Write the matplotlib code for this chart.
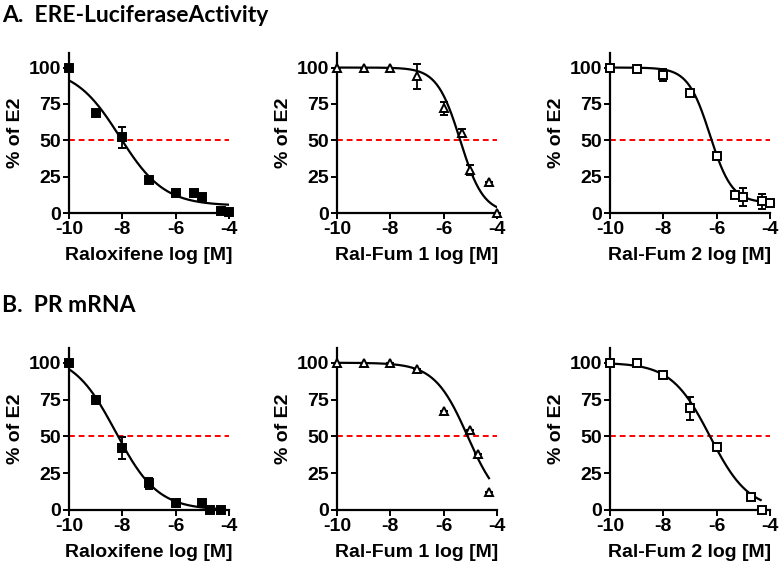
import numpy as np
import matplotlib
matplotlib.use("Agg")
import matplotlib.pyplot as plt

ral_ere_x = [-10, -9, -8, -7, -6, -5.3, -5, -4.3, -4]
ral_ere_y = [100, 69, 52, 23, 14, 14, 11, 1.5, 0.5]
ral_ere_err = [0, 0, 7, 2, 0, 0, 0, 0, 0]

fum1_ere_x = [-10, -9, -8, -7, -6, -5.3, -5, -4.3, -4]
fum1_ere_y = [100, 100, 99.5, 94, 72, 55, 29.5, 21, 0]
fum1_ere_err = [0, 0, 0, 8.5, 4.5, 3, 3.5, 0, 0]

fum2_ere_x = [-10, -9, -8, -7, -6, -5.3, -5, -4.3, -4]
fum2_ere_y = [100, 99, 95, 82.5, 39.5, 12.5, 11, 8, 7]
fum2_ere_err = [1, 0, 4, 0, 0, 0, 6, 5, 0]

ral_pr_x = [-10, -9, -8, -7, -6, -5, -4.7, -4.3]
ral_pr_y = [100, 75, 42, 18, 5, 4.5, 0, 0]
ral_pr_err = [0, 0, 7.5, 4, 0, 0, 0, 0]

fum1_pr_x = [-10, -9, -8, -7, -6, -5, -4.7, -4.3]
fum1_pr_y = [100, 100, 99.5, 96, 67.5, 54, 38, 12]
fum1_pr_err = [0, 0, 0, 0, 0, 0, 0, 0]

fum2_pr_x = [-10, -9, -8, -7, -6, -4.7, -4.3]
fum2_pr_y = [100, 99.5, 92, 69, 43, 8.5, 0]
fum2_pr_err = [0, 0, 0, 8, 2, 2, 0]

# fitted dose-response curves: top, bottom, logIC50, hill slope, last x
ral_ere_fit = [100, 5, -8.1, 0.52, -4.0]
fum1_ere_fit = [100, 0, -5.38, 1.0, -4.0]
fum2_ere_fit = [100, 7, -6.25, 1.05, -4.05]
ral_pr_fit = [106, 0, -8.25, 0.55, -4.4]
fum1_pr_fit = [100, 0, -5.1, 0.7, -4.3]
fum2_pr_fit = [100, 0, -6.25, 0.6, -4.35]

xlabels = ["Raloxifene log [M]", "Ral-Fum 1 log [M]", "Ral-Fum 2 log [M]"]
section_titles = ["A.  ERE-LuciferaseActivity", "B.  PR mRNA"]

ARIAL = ["Liberation Sans"]
plt.rcParams["font.family"] = ARIAL
plt.rcParams["font.weight"] = "bold"
plt.rcParams["axes.unicode_minus"] = False


def dose_response(x, fit):
    top, bottom, logic50, hill, _ = fit
    return bottom + (top - bottom) / (1 + 10 ** ((x - logic50) * hill))


def panel(ax, x, y, err, fit, marker, face, xlabel):
    # one dose-response panel
    xs = np.linspace(-10, fit[4], 200)
    ax.plot(xs, dose_response(xs, fit), color="black", lw=1.6, zorder=2)
    ax.axhline(50, color="red", ls=(0, (3, 2)), lw=1.4, zorder=1)
    ax.errorbar(x, y, yerr=err, fmt=marker, ms=5.5,
                mfc=face, mec="black", mew=1.4, color="black",
                ecolor="black", elinewidth=1.3, capsize=3, capthick=1.3,
                zorder=3, clip_on=False)
    ax.set_xlim(-10, -4)
    ax.set_ylim(0, 110)
    ax.set_xticks([-10, -8, -6, -4])
    ax.set_yticks([0, 25, 50, 75, 100])
    ax.spines["top"].set_visible(False)
    ax.spines["right"].set_visible(False)
    ax.spines["left"].set_linewidth(1.6)
    ax.spines["bottom"].set_linewidth(1.6)
    ax.tick_params(direction="out", length=4, width=1.4, labelsize=14, pad=2)
    for lab in ax.get_xticklabels() + ax.get_yticklabels():
        lab.set_fontfamily(ARIAL)
        lab.set_fontweight("bold")
    ax.set_xlabel(xlabel, fontsize=14, fontweight="bold", family=ARIAL, labelpad=6)
    ax.set_ylabel("% of E2", fontsize=14, fontweight="bold", family=ARIAL, labelpad=3)


fig = plt.figure(figsize=(7.8, 5.7), dpi=100)

lefts = [69 / 780, 337 / 780, 610 / 780]
width = 160 / 780
rows = [(1 - 213 / 570, 160 / 570), (1 - 510 / 570, 162 / 570)]

data = [
    [(ral_ere_x, ral_ere_y, ral_ere_err, ral_ere_fit, "s", "black"),
     (fum1_ere_x, fum1_ere_y, fum1_ere_err, fum1_ere_fit, "^", "white"),
     (fum2_ere_x, fum2_ere_y, fum2_ere_err, fum2_ere_fit, "s", "white")],
    [(ral_pr_x, ral_pr_y, ral_pr_err, ral_pr_fit, "s", "black"),
     (fum1_pr_x, fum1_pr_y, fum1_pr_err, fum1_pr_fit, "^", "white"),
     (fum2_pr_x, fum2_pr_y, fum2_pr_err, fum2_pr_fit, "s", "white")],
]

for r, (bottom, height) in enumerate(rows):
    for c in range(3):
        ax = fig.add_axes([lefts[c], bottom, width, height])
        x, y, err, fit, marker, face = data[r][c]
        panel(ax, x, y, err, fit, marker, face, xlabels[c])

fig.text(2 / 780, 1 - 22 / 570, section_titles[0], fontsize=16.5,
         fontweight="bold", family=["Lato", "DejaVu Sans"], va="baseline")
fig.text(2 / 780, 1 - 312 / 570, section_titles[1], fontsize=16.5,
         fontweight="bold", family=["Lato", "DejaVu Sans"], va="baseline")

fig.savefig("out.png", dpi=100)
